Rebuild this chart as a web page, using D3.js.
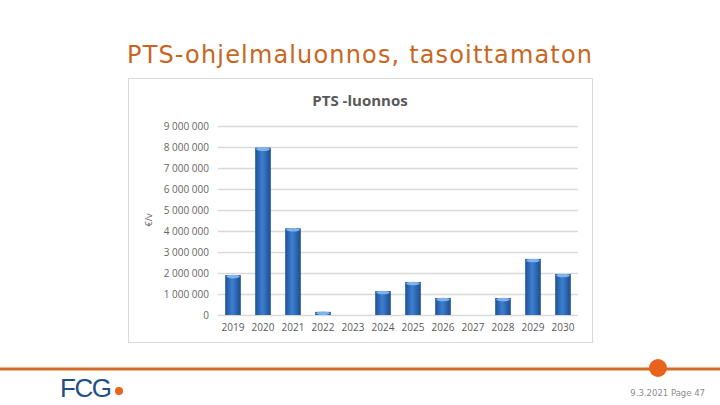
<!doctype html>
<html>
<head>
<meta charset="utf-8">
<style>
  body { margin: 0; background: #fff; }
  svg { display: block; }
</style>
<script src="https://d3js.org/d3.v7.min.js"></script>
</head>
<body>
<svg width="720" height="405"></svg>
<script>
// data
var years = ["2019","2020","2021","2022","2023","2024","2025","2026","2027","2028","2029","2030"];
var values = [1900000, 7970000, 4130000, 150000, 0, 1140000, 1570000, 810000, 0, 810000, 2670000, 1950000];
var yTicks = [0, 1000000, 2000000, 3000000, 4000000, 5000000, 6000000, 7000000, 8000000, 9000000];

var svg = d3.select("svg");

// slide title
svg.append("text")
   .attr("x", 127).attr("y", 63)
   .attr("font-family", "DejaVu Sans, Verdana, sans-serif")
   .attr("font-size", "24px")
   .attr("fill", "#c8661f")
   .attr("textLength", 465)
   .attr("lengthAdjust", "spacing")
   .text("PTS-ohjelmaluonnos, tasoittamaton");

// chart box
svg.append("rect")
   .attr("x", 128.5).attr("y", 78.5)
   .attr("width", 464).attr("height", 264)
   .attr("fill", "#fff").attr("stroke", "#d9d9d9");

svg.append("text")
   .attr("x", 360).attr("y", 106)
   .attr("text-anchor", "middle")
   .attr("font-family", "Open Sans, sans-serif")
   .attr("font-weight", "bold")
   .attr("font-size", "15px")
   .attr("fill", "#595959")
   .text("PTS -luonnos");

var x = d3.scaleBand().domain(years).range([218, 578]).paddingInner(0.48).paddingOuter(0.24);
var y = d3.scaleLinear().domain([0, 9000000]).range([315, 126]);

// gradient for bars
var defs = svg.append("defs");
var grad = defs.append("linearGradient").attr("id", "barGrad").attr("x1", 0).attr("x2", 1).attr("y1", 0).attr("y2", 0);
grad.append("stop").attr("offset", "0%").attr("stop-color", "#1e4f95");
grad.append("stop").attr("offset", "45%").attr("stop-color", "#3d7fd0");
grad.append("stop").attr("offset", "100%").attr("stop-color", "#1d4c8e");

// gridlines
svg.append("g")
   .selectAll("line")
   .data(yTicks)
   .enter().append("line")
   .attr("x1", 218).attr("x2", 578)
   .attr("y1", function(d) { return y(d) + 0.5; })
   .attr("y2", function(d) { return y(d) + 0.5; })
   .attr("stroke", "#d9d9d9").attr("stroke-width", 1.3);

// y axis labels
var yAxis = svg.append("g")
   .attr("transform", "translate(218,0)")
   .call(d3.axisLeft(y).tickValues(yTicks).tickSize(0).tickPadding(9)
     .tickFormat(function(d) { return d3.format(",")(d).replace(/,/g, " "); }));
yAxis.select(".domain").remove();
yAxis.selectAll("text")
   .attr("font-family", "Open Sans, sans-serif")
   .attr("font-size", "10px")
   .attr("fill", "#666");

// x axis labels
var xAxis = svg.append("g")
   .attr("transform", "translate(0,315)")
   .call(d3.axisBottom(x).tickSize(0).tickPadding(9));
xAxis.select(".domain").remove();
xAxis.selectAll("text")
   .attr("font-family", "Open Sans, sans-serif")
   .attr("font-size", "10px")
   .attr("fill", "#595959");

// y title
svg.append("text")
   .attr("transform", "translate(152,220) rotate(-90)")
   .attr("text-anchor", "middle")
   .attr("font-family", "Open Sans, sans-serif")
   .attr("font-size", "9px")
   .attr("fill", "#595959")
   .text("€/v");

// bars
var bars = svg.append("g").selectAll("g")
   .data(years.map(function(d, i) { return {year: d, value: values[i]}; }))
   .enter().append("g");

bars.append("rect")
   .attr("x", function(d) { return x(d.year); })
   .attr("y", function(d) { return y(d.value); })
   .attr("width", x.bandwidth())
   .attr("height", function(d) { return 315 - y(d.value); })
   .attr("fill", "url(#barGrad)");

// lighter cap at top of bars
bars.filter(function(d) { return d.value > 0; })
   .append("ellipse")
   .attr("cx", function(d) { return x(d.year) + x.bandwidth() / 2; })
   .attr("cy", function(d) { return y(d.value) + 1.5; })
   .attr("rx", x.bandwidth() / 2 - 1)
   .attr("ry", 1.8)
   .attr("fill", "#7fb3ee");

// footer
svg.append("line")
   .attr("x1", 0).attr("x2", 720).attr("y1", 369).attr("y2", 369)
   .attr("stroke", "#d4692a").attr("stroke-width", 3);
svg.append("circle")
   .attr("cx", 658).attr("cy", 368).attr("r", 9)
   .attr("fill", "#e8641c");

svg.append("text")
   .attr("x", 60).attr("y", 397)
   .attr("font-family", "Liberation Sans, Arial, sans-serif")
   .attr("font-size", "26px")
   .attr("letter-spacing", "-1.5px")
   .attr("fill", "#1f4f86")
   .text("FCG");
svg.append("circle")
   .attr("cx", 119).attr("cy", 391).attr("r", 4)
   .attr("fill", "#e8641c");

svg.append("text")
   .attr("x", 705).attr("y", 396)
   .attr("text-anchor", "end")
   .attr("font-family", "DejaVu Sans, sans-serif")
   .attr("font-size", "8.5px")
   .attr("fill", "#8c8c8c")
   .text("9.3.2021  Page 47");
</script>
</body>
</html>
